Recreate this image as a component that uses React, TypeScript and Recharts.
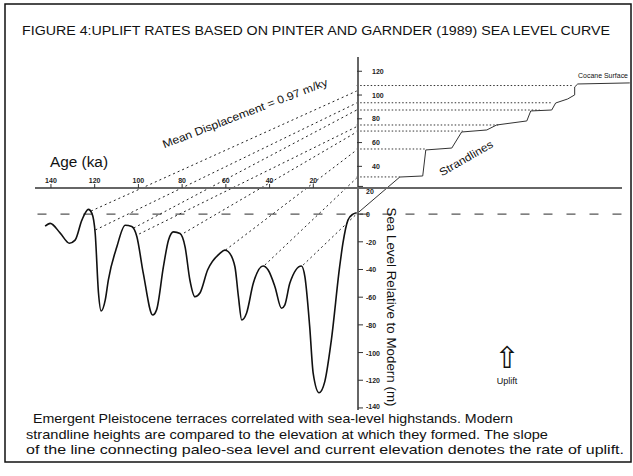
import React from "react";
import { ComposedChart, LineChart, Line, XAxis, YAxis, ReferenceLine } from "recharts";

const W = 633;
const H = 476;

// Pinter & Gardner (1989) sea level curve: age (ka) and sea level (m)
const curveAge = [
  142.5, 140.2, 135.6, 131.4, 128.8, 125.7, 122.7, 121.1, 119.6, 118.1, 116.9, 115, 113.6,
  109.7, 105.9, 102.9, 100.6, 97.6, 93.3, 91.5, 88.4, 86.1, 83.8, 80.8, 78.5, 76.3, 74, 71.7,
  68.2, 62.6, 60.3, 58.8, 55.7, 54.1, 52.6, 50.4, 47.3, 42.8, 40.5, 37.4, 34.4, 32.9, 30.6,
  25.3, 23.7, 21.5, 19.9, 17.2, 14.6, 11.6, 7.8, 6.3, 4, 1.7, 0,
];
const curveLevel = [
  -8.7, -6.7, -13.7, -21, -18.8, -4.3, 3.4, 0.5, -14, -57, -70, -62, -47.6,
  -23.6, -8, -9, -16, -42.8, -72.9, -69, -38, -18.8, -12.8, -14, -23.6, -47.6, -59.7, -57,
  -40.4, -28.4, -26, -27, -38, -59.6, -76.5, -71.6, -50, -37.5, -40.4, -52.4, -68, -65.7, -50,
  -37.5, -45.2, -81.3, -115, -129, -121, -91, -38, -21, -4.3, 0, 1,
];

// mean displacement lines: highstand (age, level on elevation scale) -> strandline elevation at 0 ka
const dispAge = [121.5, 119.5, 102, 99.5, 79, 60, 42, 24.5];
const dispStart = [2.4, -13.5, -11.9, -16.9, -16.1, -30.4, -43, -43];
const dispEnd = [103.4, 93.3, 87.4, 73.4, 68.9, 53.8, 30.2, 0];

// strandline terraces: elevation (m) and where each one ends to the right of the axis
const terraceElev = [108, 93.5, 87.4, 74.8, 69.7, 54.6, 31.1];
const terraceEnd = [-98.5, -89, -83.7, -65.4, -48.5, -31.1, -19.7];

// terrace profile (schematic distance, elevation)
const profileX = [0, -19.7, -30.2, -31.6, -43.5, -48, -59.5, -64, -77.8, -79.6, -89.2, -91, -96.5, -99.7, -99.7, -101.1, -124.9];
const profileElev = [0, 31, 31.9, 53.8, 55.4, 68.9, 70.6, 74.8, 78.2, 86.6, 87.4, 93.3, 96.7, 100.1, 106.8, 109.3, 110.2];

const ageTicks = [140, 120, 100, 80, 60, 40, 20];
const seaTicks = [-140, -120, -100, -80, -60, -40, -20, 0, 20];
const elevTicks = [40, 60, 80, 100, 120];

const X_DOMAIN: [number, number] = [-125, 154];
const SEA_DOMAIN: [number, number] = [-141.5, 113.5];
const ELEV_DOMAIN: [number, number] = [-165, 132];
const PLOT_MARGIN = { top: 57, right: 3, bottom: 66, left: 20 };

const FONT = "'Liberation Sans', Arial, sans-serif";
const tickFont = { fontSize: 7, fontWeight: 700, fill: "#222", fontFamily: FONT };

const curveData = curveAge.map((a, i) => ({ age: a, v: curveLevel[i] }));
const profileData = profileX.map((a, i) => ({ age: a, v: profileElev[i] }));

function SeaTick(props: any) {
  const { x, y, payload } = props;
  // the 20 label sits just under the age axis, the -140 one just above the caption
  const dy = payload.value === 20 ? 8 : payload.value === -140 ? 1 : 3;
  return (
    <text x={x} y={y} dy={dy} style={tickFont} textAnchor="start">
      {payload.value}
    </text>
  );
}

export default function App() {
  const abs: React.CSSProperties = { position: "absolute", left: 0, top: 0 };
  return (
    <div style={{ position: "absolute", left: 0, top: 0, width: W, height: H, background: "#fff", overflow: "hidden" }}>
      {/* main plot: sea level curve, displacement lines, strandlines */}
      <div style={abs}>
        <ComposedChart width={W} height={H} margin={PLOT_MARGIN}>
          <XAxis type="number" dataKey="age" domain={X_DOMAIN} reversed hide allowDataOverflow />
          <YAxis yAxisId="sea" type="number" domain={SEA_DOMAIN} hide allowDataOverflow />
          <YAxis yAxisId="elev" type="number" domain={ELEV_DOMAIN} hide allowDataOverflow />
          <ReferenceLine
            yAxisId="sea"
            segment={[{ x: 146, y: 0 }, { x: -122, y: 0 }]}
            stroke="#555"
            strokeWidth={1.3}
            strokeDasharray="9 14"
          />
          {terraceElev.map((e, i) => (
            <Line
              key={"t" + i}
              yAxisId="elev"
              data={[{ age: 0, v: e }, { age: terraceEnd[i], v: e }]}
              dataKey="v"
              type="linear"
              stroke="#333"
              strokeWidth={1}
              strokeDasharray="1.5 2"
              dot={false}
              isAnimationActive={false}
            />
          ))}
          {dispAge.map((a, i) => (
            <Line
              key={"d" + i}
              yAxisId="elev"
              data={[{ age: a, v: dispStart[i] }, { age: 0, v: dispEnd[i] }]}
              dataKey="v"
              type="linear"
              stroke="#222"
              strokeWidth={1}
              strokeDasharray="2 3"
              dot={false}
              isAnimationActive={false}
            />
          ))}
          <Line
            yAxisId="elev"
            data={profileData}
            dataKey="v"
            type="linear"
            stroke="#333"
            strokeWidth={1}
            dot={false}
            isAnimationActive={false}
          />
          <Line
            yAxisId="sea"
            data={curveData}
            dataKey="v"
            type="monotone"
            stroke="#111"
            strokeWidth={1.6}
            dot={false}
            isAnimationActive={false}
          />
        </ComposedChart>
      </div>

      {/* age axis, drawn through the middle of the figure */}
      <div style={abs}>
        <LineChart width={W} height={H} data={curveData} margin={{ top: 100, right: 11, bottom: 288, left: 35 }}>
          <XAxis
            type="number"
            dataKey="age"
            domain={[-121.2, 147.3]}
            reversed
            orientation="bottom"
            mirror
            height={1}
            ticks={ageTicks}
            interval={0}
            tickSize={4}
            tickMargin={1}
            tick={tickFont}
            axisLine={{ stroke: "#666", strokeWidth: 2 }}
            tickLine={{ stroke: "#333" }}
          />
          <YAxis hide dataKey="v" />
        </LineChart>
      </div>

      {/* sea level / elevation axis at 0 ka */}
      <div style={abs}>
        <LineChart width={W} height={H} data={curveData} margin={{ top: 57, right: 274, bottom: 66, left: 300 }}>
          <XAxis type="number" dataKey="age" domain={[0, 1]} hide allowDataOverflow />
          <YAxis
            yAxisId="sea"
            orientation="right"
            type="number"
            dataKey="v"
            domain={SEA_DOMAIN}
            allowDataOverflow
            width={1}
            ticks={seaTicks}
            interval={0}
            tickSize={5}
            tickMargin={3}
            tick={<SeaTick />}
            axisLine={{ stroke: "#666", strokeWidth: 2 }}
            tickLine={{ stroke: "#333" }}
          />
          <YAxis
            yAxisId="elev"
            orientation="right"
            type="number"
            dataKey="v"
            domain={ELEV_DOMAIN}
            allowDataOverflow
            width={1}
            ticks={elevTicks}
            interval={0}
            tickSize={5}
            tickMargin={10}
            tick={tickFont}
            axisLine={false}
            tickLine={{ stroke: "#333" }}
          />
        </LineChart>
      </div>

      {/* text and frame */}
      <svg width={W} height={H} style={abs}>
        <rect x={5} y={4} width={626} height={458} fill="none" stroke="#111" strokeWidth={1.5} />
        <text x={22} y={35} fontSize={12.5} fontFamily={FONT} fill="#111" textLength={588} lengthAdjust="spacingAndGlyphs">
          FIGURE 4:UPLIFT RATES BASED ON PINTER AND GARNDER (1989) SEA LEVEL CURVE
        </text>
        <text x={50} y={167} fontSize={14} fontFamily={FONT} fill="#111" textLength={58} lengthAdjust="spacingAndGlyphs">
          Age (ka)
        </text>
        <text
          x={245}
          y={117}
          fontSize={11}
          fontFamily={FONT}
          fill="#111"
          textAnchor="middle"
          transform="rotate(-21 245 113)"
          textLength={176}
          lengthAdjust="spacingAndGlyphs"
        >
          Mean Displacement = 0.97 m/ky
        </text>
        <text
          x={466}
          y={162}
          fontSize={11}
          fontFamily={FONT}
          fill="#111"
          textAnchor="middle"
          transform="rotate(-30 466 158)"
          textLength={60}
          lengthAdjust="spacingAndGlyphs"
        >
          Strandlines
        </text>
        <text
          x={391}
          y={311}
          fontSize={12.5}
          fontFamily={FONT}
          fill="#111"
          textAnchor="middle"
          transform="rotate(90 391 307)"
          textLength={199}
          lengthAdjust="spacingAndGlyphs"
        >
          Sea Level Relative to Modern (m)
        </text>
        <text x={578} y={78} fontSize={7} fontFamily={FONT} fill="#111" textLength={50} lengthAdjust="spacingAndGlyphs">
          Cocane Surface
        </text>
        <text x={507} y={368} fontSize={30} fontFamily="'DejaVu Sans', sans-serif" fill="#111" textAnchor="middle">
          ⇧
        </text>
        <text x={507} y={384} fontSize={9} fontFamily={FONT} fill="#111" textAnchor="middle">
          Uplift
        </text>
        <text x={33} y={423} fontSize={13} fontFamily={FONT} fill="#111" textLength={480} lengthAdjust="spacingAndGlyphs">
          Emergent Pleistocene terraces correlated with sea-level highstands. Modern
        </text>
        <text x={26} y={438.5} fontSize={13} fontFamily={FONT} fill="#111" textLength={522} lengthAdjust="spacingAndGlyphs">
          strandline heights are compared to the elevation at which they formed. The slope
        </text>
        <text x={26} y={453.5} fontSize={13} fontFamily={FONT} fill="#111" textLength={598} lengthAdjust="spacingAndGlyphs">
          of the line connecting paleo-sea level and current elevation denotes the rate of uplift.
        </text>
      </svg>
    </div>
  );
}
